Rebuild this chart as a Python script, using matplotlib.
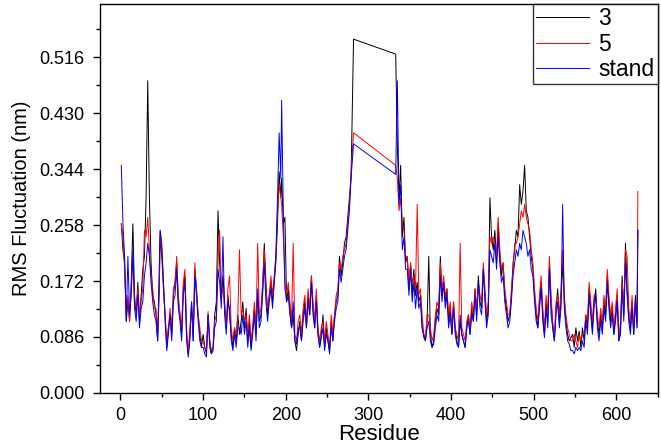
import matplotlib.pyplot as plt
from matplotlib.ticker import MultipleLocator
import numpy as np

plt.rcParams['font.family'] = ['Liberation Sans', 'DejaVu Sans']

# residue numbers sampled from the trace
residue = [1, 3, 5, 7, 9, 11, 13, 15, 17, 19, 21, 23, 25, 27, 29, 31, 33, 35, 37, 39,
           41, 43, 45, 47, 48, 50, 52, 54, 56, 58, 60, 62, 64, 66, 68, 70, 72, 74, 76, 78,
           80, 82, 84, 86, 88, 90, 92, 94, 96, 98, 100, 102, 104, 106, 108, 110, 112, 114, 116, 118,
           120, 122, 124, 126, 128, 130, 132, 134, 136, 138, 140, 142, 144, 146, 148, 150, 152, 154, 156, 158,
           160, 162, 164, 166, 168, 170, 172, 174, 176, 178, 180, 182, 184, 186, 188, 190, 192, 194, 195, 197,
           199, 201, 203, 205, 207, 209, 211, 213, 215, 217, 219, 221, 223, 225, 227, 229, 231, 233, 235, 237,
           239, 241, 243, 245, 247, 249, 251, 253, 255, 257, 259, 261, 263, 265, 267, 269, 271, 273, 275, 277,
           279, 282, 333, 335, 337, 339, 341, 343, 345, 347, 349, 351, 353, 355, 357, 359, 361, 363, 365, 367,
           369, 371, 373, 375, 377, 379, 381, 383, 385, 387, 389, 391, 393, 395, 397, 399, 401, 403, 405, 407,
           409, 411, 413, 415, 417, 419, 421, 423, 425, 427, 429, 431, 433, 435, 437, 439, 441, 443, 445, 447,
           449, 451, 453, 455, 457, 459, 461, 463, 465, 467, 469, 471, 473, 475, 477, 479, 481, 483, 485, 487,
           489, 491, 493, 495, 497, 499, 501, 503, 505, 507, 509, 511, 513, 515, 517, 519, 521, 523, 525, 527,
           529, 531, 533, 535, 537, 539, 541, 543, 545, 547, 549, 551, 553, 555, 557, 559, 561, 563, 565, 567,
           569, 571, 573, 575, 577, 579, 581, 583, 585, 587, 589, 591, 593, 595, 597, 599, 601, 603, 605, 607,
           609, 611, 613, 615, 617, 619, 621, 623, 625, 626]

rmsf_3 = [.26, .22, .20, .11, .14, .11, .17, .26, .15, .12, .17, .11, .15, .19, .21, .30, .48, .30, .20, .15,
          .14, .12, .08, .16, .24, .21, .16, .12, .07, .10, .12, .09, .15, .17, .20, .14, .12, .09, .16, .18,
          .09, .06, .09, .14, .08, .19, .16, .12, .09, .07, .09, .07, .06, .12, .08, .06, .07, .12, .14, .28,
          .20, .14, .18, .14, .10, .15, .12, .09, .07, .10, .08, .12, .09, .11, .14, .10, .13, .08, .11, .07,
          .10, .13, .09, .15, .11, .12, .16, .23, .17, .12, .15, .17, .14, .17, .20, .26, .34, .30, .33, .26,
          .27, .14, .16, .13, .10, .12, .08, .065, .09, .11, .08, .12, .14, .10, .15, .12, .18, .13, .10, .15,
          .09, .07, .09, .12, .07, .10, .08, .06, .11, .08, .12, .14, .15, .21, .18, .20, .23, .24, .27, .30,
          .33, .544, .521, .38, .30, .35, .24, .27, .20, .21, .16, .20, .15, .19, .15, .17, .14, .15, .10, .09,
          .08, .11, .21, .09, .07, .08, .11, .13, .12, .21, .15, .17, .14, .16, .11, .13, .09, .14, .10, .08,
          .07, .11, .09, .08, .07, .10, .12, .09, .13, .11, .16, .12, .18, .14, .13, .19, .15, .11, .13, .30,
          .24, .22, .25, .20, .26, .21, .18, .20, .15, .13, .11, .12, .15, .20, .22, .25, .24, .32, .29, .31,
          .35, .28, .27, .24, .21, .19, .15, .12, .10, .14, .17, .12, .09, .14, .11, .20, .14, .10, .08, .13,
          .16, .11, .14, .20, .14, .11, .09, .08, .085, .09, .07, .10, .08, .095, .07, .10, .08, .12, .10, .16,
          .13, .10, .14, .16, .11, .09, .12, .10, .14, .12, .18, .14, .11, .13, .09, .12, .15, .08, .10, .18,
          .12, .23, .16, .12, .10, .14, .09, .15, .11, .25]

rmsf_5 = [.26, .24, .19, .12, .15, .11, .16, .21, .14, .13, .16, .12, .14, .16, .25, .24, .27, .22, .18, .16,
          .13, .13, .09, .17, .25, .22, .17, .12, .08, .10, .13, .10, .16, .17, .21, .15, .12, .10, .17, .19,
          .10, .06, .10, .13, .09, .20, .15, .12, .10, .08, .08, .07, .065, .125, .08, .065, .07, .11, .12, .20,
          .25, .15, .16, .13, .10, .16, .18, .10, .08, .10, .09, .12, .22, .12, .13, .11, .12, .09, .12, .08,
          .10, .14, .10, .23, .12, .13, .17, .22, .16, .13, .15, .18, .15, .18, .21, .28, .32, .30, .29, .24,
          .17, .15, .17, .14, .11, .23, .09, .08, .11, .12, .09, .13, .15, .11, .16, .13, .18, .14, .11, .16,
          .10, .08, .10, .11, .08, .11, .09, .07, .12, .09, .12, .15, .16, .20, .19, .21, .22, .23, .26, .29,
          .34, .40, .35, .33, .28, .30, .26, .25, .21, .21, .17, .20, .17, .18, .16, .29, .15, .16, .12, .09,
          .085, .12, .12, .10, .08, .09, .12, .14, .13, .20, .16, .18, .15, .16, .12, .14, .10, .14, .10, .09,
          .08, .23, .10, .09, .08, .11, .12, .10, .14, .12, .16, .13, .17, .15, .14, .20, .16, .12, .14, .24,
          .23, .24, .23, .21, .27, .22, .19, .20, .16, .14, .12, .12, .16, .19, .23, .23, .24, .26, .28, .27,
          .29, .27, .26, .25, .22, .20, .16, .13, .11, .15, .18, .13, .10, .15, .12, .21, .15, .11, .085, .14,
          .15, .12, .16, .22, .15, .12, .10, .09, .08, .08, .09, .08, .07, .09, .08, .09, .09, .12, .11, .17,
          .14, .11, .15, .15, .12, .10, .13, .11, .15, .13, .19, .15, .12, .14, .10, .13, .16, .085, .11, .17,
          .13, .22, .21, .13, .11, .15, .10, .14, .10, .31]

rmsf_stand = [.35, .26, .21, .11, .21, .12, .15, .22, .13, .11, .15, .10, .13, .14, .18, .20, .23, .21, .17, .14,
              .12, .11, .08, .20, .25, .23, .17, .11, .065, .09, .12, .08, .14, .15, .19, .13, .11, .08, .15, .17,
              .08, .055, .08, .14, .08, .18, .15, .11, .08, .07, .07, .06, .055, .12, .07, .06, .065, .10, .11, .19,
              .17, .13, .24, .12, .09, .14, .13, .08, .065, .09, .07, .10, .10, .09, .12, .09, .11, .07, .10, .065,
              .09, .12, .08, .16, .10, .11, .15, .20, .14, .11, .14, .16, .13, .17, .21, .30, .40, .33, .45, .28,
              .16, .14, .15, .12, .10, .14, .08, .075, .10, .10, .08, .11, .13, .10, .14, .12, .17, .12, .10, .14,
              .09, .07, .085, .10, .065, .09, .08, .065, .10, .08, .11, .13, .14, .19, .17, .19, .21, .22, .25, .28,
              .33, .383, .336, .48, .29, .32, .22, .24, .19, .19, .15, .19, .14, .17, .13, .16, .13, .14, .10, .085,
              .08, .10, .11, .08, .07, .075, .10, .12, .11, .18, .14, .17, .13, .15, .10, .12, .09, .13, .09, .075,
              .07, .12, .09, .08, .07, .10, .11, .09, .12, .11, .15, .11, .17, .13, .12, .19, .14, .10, .12, .22,
              .21, .20, .23, .19, .24, .20, .17, .18, .14, .12, .10, .11, .14, .18, .20, .22, .21, .23, .22, .25,
              .24, .23, .21, .22, .19, .18, .14, .11, .10, .13, .16, .11, .085, .13, .10, .19, .12, .10, .08, .12,
              .14, .10, .13, .29, .13, .10, .08, .075, .065, .065, .06, .07, .065, .07, .065, .08, .07, .11, .09, .15,
              .12, .09, .13, .15, .10, .08, .11, .09, .13, .11, .17, .13, .10, .12, .09, .11, .14, .08, .09, .16,
              .11, .20, .15, .11, .09, .13, .09, .14, .10, .25]

series_names = ['3', '5', 'stand']
series_colors = ['black', 'red', 'blue']

fig = plt.figure(figsize=(6.61, 4.48), dpi=100)
ax = fig.add_axes([0.151, 0.123, 0.844, 0.868])

for vals, name, col in zip([rmsf_3, rmsf_5, rmsf_stand], series_names, series_colors):
    ax.plot(residue, vals, color=col, lw=0.7, label=name)

ax.set_xlim(-25, 650)
ax.set_ylim(0, 0.598)
ax.set_xticks(np.arange(0, 601, 100))
ax.set_yticks(np.arange(0, 0.52, 0.086))
ax.yaxis.set_major_formatter(plt.FormatStrFormatter('%.3f'))
ax.xaxis.set_minor_locator(MultipleLocator(50))
ax.yaxis.set_minor_locator(MultipleLocator(0.043))
ax.tick_params(which='major', direction='out', length=5, width=1, labelsize=13)
ax.tick_params(axis='y', which='major', pad=6)
ax.tick_params(axis='x', which='major', pad=5)
ax.tick_params(which='minor', direction='out', length=3, width=1)
for sp in ax.spines.values():
    sp.set_linewidth(1)

ax.set_xlabel('Residue', fontsize=16, labelpad=0)
ax.set_ylabel('RMS Fluctuation (nm)', fontsize=14.5, labelpad=6)

leg = ax.legend(loc='upper right', fontsize=16.5, frameon=True, fancybox=False,
                borderaxespad=0, handlelength=2.3, handletextpad=0.4,
                labelspacing=0.1, borderpad=0.15)
leg.get_frame().set_edgecolor('black')
leg.get_frame().set_linewidth(1)

fig.savefig('out.png', dpi=100)
